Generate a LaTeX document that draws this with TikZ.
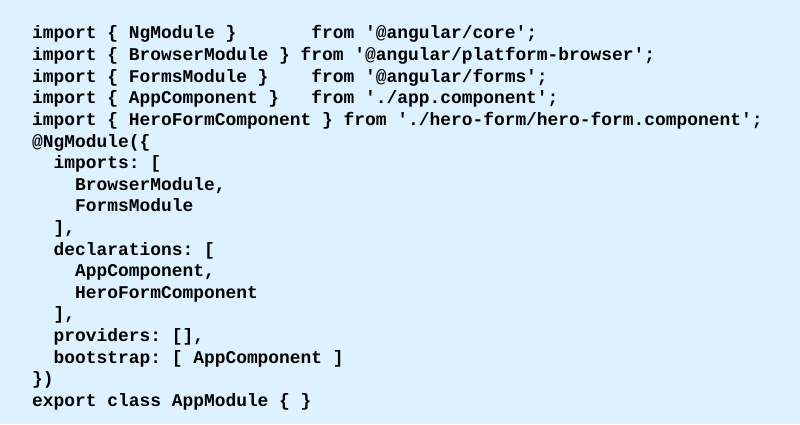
\documentclass[tikz,border=0pt]{standalone}
\usepackage{fontspec}
\setmonofont{Liberation Mono}
\definecolor{codebg}{RGB}{221,241,255}
\tikzset{codeline/.style={anchor=base west, inner sep=0pt, font=\ttfamily\bfseries\fontsize{17.9}{21}\selectfont}}

\begin{document}
\begin{tikzpicture}[x=1pt,y=1pt]

\fill[codebg] (0,0) rectangle (800,424);
\useasboundingbox (0,0) rectangle (800,424);

%Code lines
\node[codeline] (l1) at (32,385.0) {import \{ NgModule \}~~~~~~ from '@angular/core';};
\node[codeline] (l2) at (32,363.4) {import \{ BrowserModule \} from '@angular/platform-browser';};
\node[codeline] (l3) at (32,341.8) {import \{ FormsModule \}~~~ from '@angular/forms';};
\node[codeline] (l4) at (32,320.2) {import \{ AppComponent \}~~ from './app.component';};
\node[codeline] (l5) at (32,298.6) {import \{ HeroFormComponent \} from './hero-form/hero-form.component';};
\node[codeline] (l6) at (32,277.0) {@NgModule(\{};
\node[codeline] (l7) at (32,255.4) {~~imports: [};
\node[codeline] (l8) at (32,233.8) {~~~~BrowserModule,};
\node[codeline] (l9) at (32,212.2) {~~~~FormsModule};
\node[codeline] (l10) at (32,190.6) {~~],};
\node[codeline] (l11) at (32,169.0) {~~declarations: [};
\node[codeline] (l12) at (32,147.4) {~~~~AppComponent,};
\node[codeline] (l13) at (32,125.8) {~~~~HeroFormComponent};
\node[codeline] (l14) at (32,104.2) {~~],};
\node[codeline] (l15) at (32,82.6) {~~providers: [],};
\node[codeline] (l16) at (32,61.0) {~~bootstrap: [ AppComponent ]};
\node[codeline] (l17) at (32,39.4) {\})};
\node[codeline] (l18) at (32,17.8) {export class AppModule \{ \}};

\end{tikzpicture}
\end{document}
